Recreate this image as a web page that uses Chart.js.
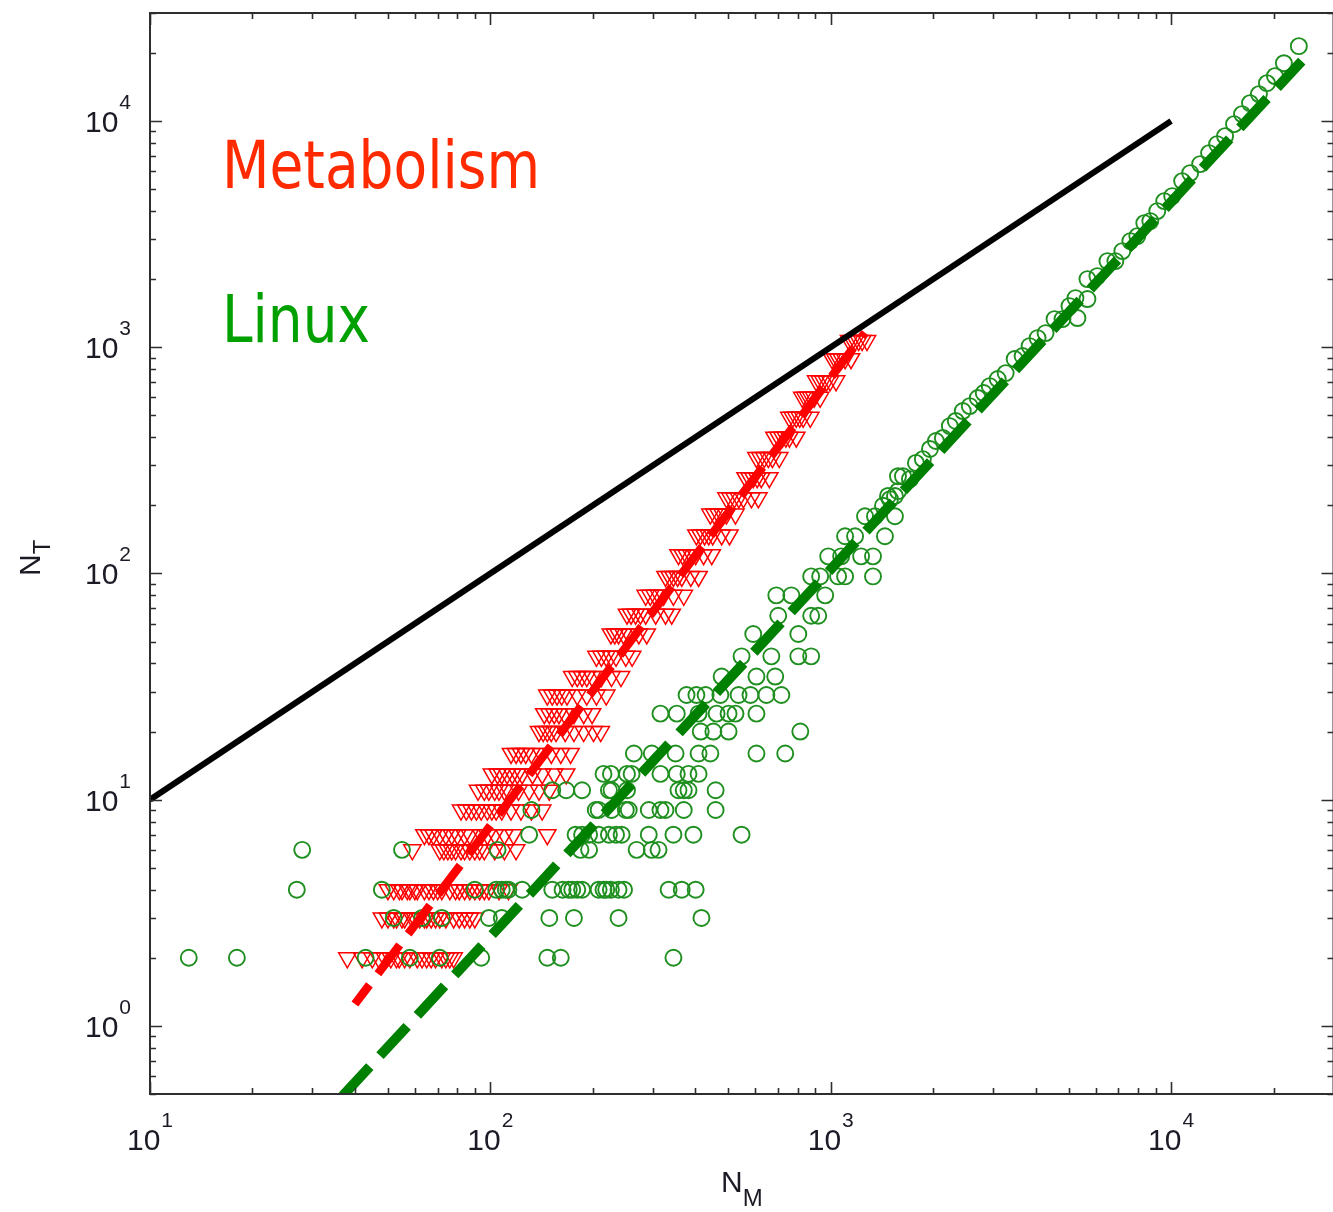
<!DOCTYPE html>
<html>
<head>
<meta charset="utf-8">
<title>N_T vs N_M</title>
<script src="https://cdn.jsdelivr.net/npm/chart.js@4.4.1/dist/chart.umd.min.js"></script>
<style>
  html, body { margin: 0; padding: 0; background: #ffffff; overflow: hidden; }
  #wrap { width: 1345px; height: 1212px; }
</style>
</head>
<body>
<div id="wrap"><canvas id="graficoNTNM" width="1345" height="1212"></canvas></div>
<script>
// ---- Data ----

// Metabolism (red triangles): N_T of each row, and the N_M values found on that row
const metabolismNT = [2, 3, 4, 6, 7, 9, 11, 13, 16, 20, 24, 29, 35, 43, 54, 66, 80, 97, 121, 148, 183, 216, 265, 325, 400, 490, 600, 710, 890, 1070];
const metabolismNM = [
  [38, 42, 45, 47, 49, 51, 53, 54, 56, 58, 61, 63, 65, 67, 69, 72, 74, 76, 78],
  [48, 50, 52, 53, 55, 56, 59, 60, 62, 64, 65, 67, 69, 71, 74, 78, 81, 84, 87, 90],
  [50, 52, 54, 55, 57, 58, 60, 61, 64, 66, 68, 70, 72, 76, 79, 81, 84, 87, 90, 93, 96, 99, 106, 113],
  [59, 71, 73, 75, 77, 79, 82, 84, 87, 90, 93, 96, 103, 110, 119],
  [64, 66, 68, 71, 74, 77, 80, 84, 87, 94, 98, 103, 110, 117, 147],
  [82, 85, 88, 91, 94, 98, 101, 104, 108, 115, 123, 132, 142],
  [92, 96, 99, 103, 106, 110, 113, 121, 130, 139, 149],
  [101, 105, 108, 112, 116, 120, 124, 133, 142, 154, 167],
  [115, 119, 123, 127, 132, 141, 151, 161, 172],
  [139, 143, 147, 151, 156, 166, 176, 188, 201, 211],
  [144, 149, 154, 159, 165, 176, 188, 199],
  [147, 152, 157, 162, 168, 180, 192, 205, 219],
  [174, 180, 186, 192, 199, 212, 227, 242],
  [205, 212, 219, 226, 234, 250, 261],
  [226, 232, 238, 246, 255, 273, 288],
  [252, 259, 267, 276, 286, 306, 327, 341],
  [286, 295, 304, 313, 323, 345, 370],
  [327, 336, 345, 355, 365, 388, 409],
  [357, 367, 377, 389, 401, 423, 447],
  [403, 414, 426, 438, 450, 478, 504],
  [443, 455, 468, 481, 494, 525],
  [494, 507, 521, 537, 554, 585, 613],
  [562, 577, 592, 608, 625, 660],
  [605, 621, 638, 656, 674, 706],
  [683, 702, 721, 738, 756, 792],
  [756, 774, 792, 811, 830, 871],
  [825, 842, 859, 876, 894, 931],
  [906, 928, 950, 973, 996, 1037],
  [1009, 1030, 1051, 1076, 1102, 1147],
  [1132, 1156, 1180, 1208, 1237, 1278]
];

// Linux (green circles), lower part: N_T of each row and the N_M values on it
const linuxNT = [2, 3, 4, 6, 7, 9, 11, 13, 16, 20, 24, 29, 35, 43, 54, 65, 80, 97, 119, 146, 179, 220, 269];
const linuxNM = [
  [13, 18, 43, 58, 71, 94, 147, 161, 345],
  [52, 63, 72, 99, 108, 149, 176, 238, 417],
  [27, 48, 90, 104, 108, 111, 113, 124, 152, 163, 170, 174, 180, 186, 208, 215, 219, 226, 238, 247, 334, 365, 401],
  [28, 55, 105, 184, 195, 269, 298, 312],
  [130, 178, 186, 195, 208, 223, 234, 243, 292, 345, 395, 547],
  [132, 204, 208, 227, 250, 255, 292, 316, 327, 370, 459],
  [152, 167, 186, 223, 227, 252, 357, 370, 382, 459],
  [215, 226, 252, 260, 316, 353, 382, 409],
  [264, 298, 350, 409, 443, 605, 735],
  [415, 452, 501, 814],
  [316, 353, 409, 462, 501, 525, 605],
  [377, 403, 429, 474, 536, 581, 647, 716],
  [478, 605, 687],
  [547, 669, 803, 876],
  [592, 803],
  [701, 876, 919],
  [692, 766, 963],
  [876, 931, 1051, 1102, 1331],
  [983, 1073, 1228, 1331],
  [1102, 1179, 1443],
  [1261, 1349, 1544],
  [1473, 1544],
  [1576]
];

// Linux, upper part (single points along the band)
const linuxUpperNM = [1424, 1493, 1576, 1630, 1709, 1779, 1865, 1956, 2037, 2135, 2238, 2330, 2443, 2561, 2703, 2815, 2931, 3094, 3265, 3470, 3662, 3839, 4052, 4277, 4544, 4796, 5307, 5028, 5236, 5678, 5678, 6074, 6500, 6859, 7190, 7590, 7957, 8341, 8687, 9106, 9546, 10074, 10777, 11376, 12170, 12931, 13651, 14407, 15307, 16155, 17052, 18117, 19124, 20184, 21447, 23731];
const linuxUpperNT = [199, 213, 231, 269, 261, 308, 320, 355, 385, 397, 448, 472, 522, 549, 596, 627, 673, 723, 768, 886, 914, 1011, 1097, 1154, 1331, 1331, 1345, 1519, 1648, 1632, 2000, 2062, 2402, 2402, 2659, 2944, 3097, 3535, 3608, 3995, 4422, 4654, 5420, 5882, 6446, 7207, 7900, 8567, 9680, 10720, 11990, 13140, 14690, 15780, 18000, 21410];

// Reference lines (end points)
const identityNM = [10, 10000];
const identityNT = [10, 10000];
const metabolismFitNM = [40, 1260];
const metabolismFitNT = [1.25, 1160];
const linuxFitNM = [36.8, 24200];
const linuxFitNT = [0.49, 18400];

// Axes
const xExponents = [1, 2, 3, 4];
const yExponents = [0, 1, 2, 3, 4];
const minorSteps = [2, 3, 4, 5, 6, 7, 8, 9];
const xTitle = ["N", "M"];
const yTitle = ["N", "T"];

// ---- Helpers ----
function rowsToPoints(levels, rows) {
  const pts = [];
  levels.forEach((nt, i) => rows[i].forEach((nm) => pts.push({ x: nm, y: nt })));
  return pts;
}
function pairsToPoints(xs, ys) {
  return xs.map((x, i) => ({ x: x, y: ys[i] }));
}

const metabolismPoints = rowsToPoints(metabolismNT, metabolismNM);
const linuxPoints = rowsToPoints(linuxNT, linuxNM).concat(pairsToPoints(linuxUpperNM, linuxUpperNT));

const LABEL_FONT = '"Liberation Sans", Arial, sans-serif';
const INK = "#1b1b26";

// Frame, inward ticks, tick labels, titles and the two names
const decorPlugin = {
  id: "decor",
  afterDraw(chart) {
    const ctx = chart.ctx;
    const area = chart.chartArea;
    const xs = chart.scales.x;
    const ys = chart.scales.y;

    ctx.save();
    ctx.strokeStyle = "#2e2e2e";
    ctx.lineWidth = 2;
    ctx.strokeRect(area.left, area.top, area.right - area.left, area.bottom - area.top);

    ctx.lineWidth = 1.6;
    ctx.beginPath();
    // x ticks (bottom and top)
    xExponents.concat([xExponents[xExponents.length - 1] + 1]).forEach((e) => {
      const d = Math.pow(10, e);
      [1].concat(minorSteps).forEach((m) => {
        const v = m * d;
        if (v < xs.min || v > xs.max) return;
        const px = Math.round(xs.getPixelForValue(v)) + 0.5;
        const len = m === 1 ? 12 : 6;
        ctx.moveTo(px, area.bottom); ctx.lineTo(px, area.bottom - len);
        ctx.moveTo(px, area.top); ctx.lineTo(px, area.top + len);
      });
    });
    // y ticks (left and right)
    [-1].concat(yExponents).forEach((e) => {
      const d = Math.pow(10, e);
      [1].concat(minorSteps).forEach((m) => {
        const v = m * d;
        if (v < ys.min - 1e-9 || v > ys.max) return;
        const py = Math.round(ys.getPixelForValue(v)) + 0.5;
        const len = m === 1 ? 12 : 6;
        ctx.moveTo(area.left, py); ctx.lineTo(area.left + len, py);
        ctx.moveTo(area.right, py); ctx.lineTo(area.right - len, py);
      });
    });
    ctx.stroke();

    // tick labels 10^n
    ctx.fillStyle = INK;
    ctx.textBaseline = "alphabetic";
    const baseFont = "30px " + LABEL_FONT;
    const expFont = "21px " + LABEL_FONT;
    ctx.font = baseFont;
    const wBase = ctx.measureText("10").width;

    xExponents.forEach((e) => {
      const px = xs.getPixelForValue(Math.pow(10, e));
      ctx.font = expFont;
      const wExp = ctx.measureText(String(e)).width;
      const start = px - (wBase + 1 + wExp) / 2;
      ctx.textAlign = "left";
      ctx.font = baseFont;
      ctx.fillText("10", start, 1150);
      ctx.font = expFont;
      ctx.fillText(String(e), start + wBase + 1, 1127);
    });

    yExponents.forEach((e) => {
      const py = ys.getPixelForValue(Math.pow(10, e));
      ctx.font = expFont;
      const wExp = ctx.measureText(String(e)).width;
      ctx.textAlign = "left";
      ctx.fillText(String(e), 131 - wExp, py - 12);
      ctx.font = baseFont;
      ctx.fillText("10", 131 - wExp - 1 - wBase, py + 11);
    });

    // axis titles with subscripts
    ctx.font = "30px " + LABEL_FONT;
    const wN = ctx.measureText(xTitle[0]).width;
    ctx.fillText(xTitle[0], 721, 1192);
    ctx.font = "24px " + LABEL_FONT;
    ctx.fillText(xTitle[1], 721 + wN, 1206);

    ctx.save();
    ctx.translate(40, 576);
    ctx.rotate(-Math.PI / 2);
    ctx.font = "30px " + LABEL_FONT;
    const wNy = ctx.measureText(yTitle[0]).width;
    ctx.fillText(yTitle[0], 0, 0);
    ctx.font = "24px " + LABEL_FONT;
    ctx.fillText(yTitle[1], wNy, 10);
    ctx.restore();

    // series names inside the plot
    const drawName = (text, color, x, y, width) => {
      ctx.save();
      ctx.font = '66px "DejaVu Sans", Verdana, sans-serif';
      const w = ctx.measureText(text).width;
      ctx.translate(x, y);
      ctx.scale(width / w, 1);
      ctx.fillStyle = color;
      ctx.textAlign = "left";
      ctx.fillText(text, 0, 0);
      ctx.restore();
    };
    drawName("Metabolism", "#ff2a00", 222, 188, 318);
    drawName("Linux", "#00a000", 222, 342, 148);

    ctx.restore();
  }
};

// ---- Chart ----
const ctx = document.getElementById("graficoNTNM").getContext("2d");

const chart = new Chart(ctx, {
  type: "scatter",
  data: {
    datasets: [
      {
        label: "N_T = N_M",
        data: pairsToPoints(identityNM, identityNT),
        showLine: true,
        borderColor: "#000000",
        borderWidth: 6,
        pointRadius: 0,
        order: 0
      },
      {
        label: "Metabolism fit",
        data: pairsToPoints(metabolismFitNM, metabolismFitNT),
        showLine: true,
        borderColor: "#ff0000",
        borderWidth: 8.5,
        borderDash: [36, 14],
        borderDashOffset: 12,
        pointRadius: 0,
        order: 1
      },
      {
        label: "Linux fit",
        data: pairsToPoints(linuxFitNM, linuxFitNT),
        showLine: true,
        borderColor: "#008000",
        borderWidth: 10,
        borderDash: [40, 15],
        pointRadius: 0,
        order: 1
      },
      {
        label: "Linux",
        data: linuxPoints,
        pointStyle: "circle",
        pointRadius: 8,
        borderColor: "#1f8f1f",
        borderWidth: 1.9,
        backgroundColor: "rgba(0,0,0,0)",
        order: 2
      },
      {
        label: "Metabolism",
        data: metabolismPoints,
        pointStyle: "triangle",
        rotation: 180,
        pointRadius: 10,
        borderColor: "#ff0000",
        borderWidth: 1.5,
        backgroundColor: "rgba(0,0,0,0)",
        order: 3
      }
    ]
  },
  options: {
    responsive: false,
    animation: false,
    devicePixelRatio: 1,
    layout: { padding: { top: 13, right: 8, left: 0, bottom: 0 } },
    plugins: {
      legend: { display: false },
      tooltip: { enabled: false }
    },
    scales: {
      x: {
        type: "logarithmic",
        position: "bottom",
        min: 10,
        max: 30000,
        grid: { display: false },
        border: { display: false },
        ticks: { display: false },
        afterFit: (scale) => { scale.height = 118; }
      },
      y: {
        type: "logarithmic",
        position: "left",
        min: 0.5,
        max: 30000,
        grid: { display: false },
        border: { display: false },
        ticks: { display: false },
        afterFit: (scale) => { scale.width = 150; }
      }
    }
  },
  plugins: [decorPlugin]
});
</script>
</body>
</html>
